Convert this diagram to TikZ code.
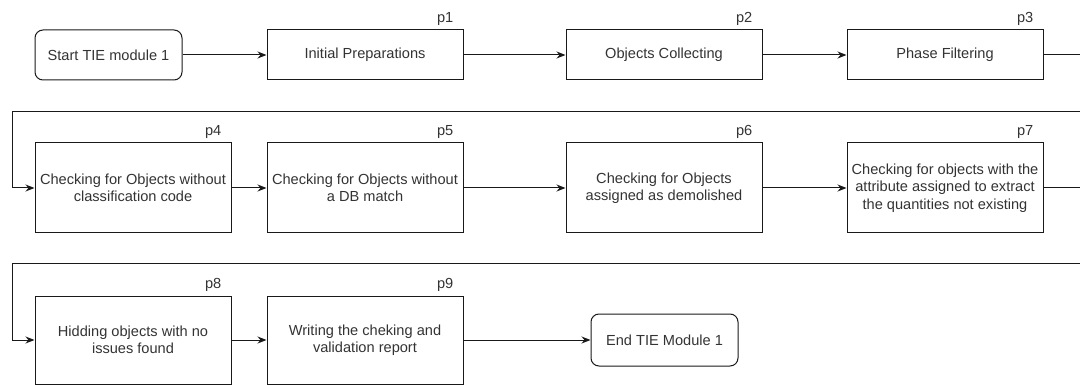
\documentclass[tikz,border=0pt]{standalone}
\usepackage{fontspec}
\setmainfont{Liberation Sans}
\usetikzlibrary{arrows.meta,calc}
\definecolor{txt}{HTML}{333333}
\tikzset{
  base/.style={draw=black!90, line width=1pt, text=txt, font=\fontsize{14.6}{17.5}\selectfont, align=center, inner sep=2pt},
  proc/.style={base, rectangle, minimum width=196pt},
  term/.style={base, rectangle, rounded corners=8pt, minimum width=147pt},
  lab/.style={text=txt, font=\fontsize{14.6}{17.5}\selectfont, anchor=base east, inner sep=0pt},
  arr/.style={draw=black!90, line width=1pt, -{Stealth[length=9pt,width=7pt]}}
}
\begin{document}
\begin{tikzpicture}[x=1pt,y=-1pt]
\useasboundingbox (0,0) rectangle (1080,385);
\clip (0,0) rectangle (1080,385);
% row 1
\node[term, minimum height=50pt] (start) at (108.5,55) {Start TIE module 1};
\node[proc, minimum height=50pt] (p1) at (365,55) {Initial Preparations};
\node[proc, minimum height=50pt] (p2) at (664,55) {Objects Collecting};
\node[proc, minimum height=50pt] (p3) at (945,55) {Phase Filtering};
% row 2
\node[proc, minimum height=90pt] (p4) at (133,188) {Checking for Objects without\\classification code};
\node[proc, minimum height=90pt] (p5) at (365,188) {Checking for Objects without\\a DB match};
\node[proc, minimum height=90pt] (p6) at (664,188) {Checking for Objects\\assigned as demolished};
\node[proc, minimum height=90pt] (p7) at (945,188) {Checking for objects with the\\attribute assigned to extract\\the quantities not existing};
% row 3
\node[proc, minimum height=88pt] (p8) at (133,340) {Hidding objects with no\\issues found};
\node[proc, minimum height=88pt] (p9) at (365,340) {Writing the cheking and\\validation report};
\node[term, minimum height=52pt] (end) at (664.5,340) {End TIE Module 1};
% labels
\foreach \n in {p1,p2,p3,p4,p5,p6,p7,p8,p9}{
  \node[lab] (l\n) at ($(\n.north east)+(-10,-7)$) {\n};
}
% connectors
\draw[arr] (start) -- (p1);
\draw[arr] (p1) -- (p2);
\draw[arr] (p2) -- (p3);
\coordinate (r1) at (1095,112);
\coordinate (q1) at (12,112);
\draw[arr] (p3.east) -| (r1) -- (q1) |- (p4.west);
\draw[arr] (p4) -- (p5);
\draw[arr] (p5) -- (p6);
\draw[arr] (p6) -- (p7);
\coordinate (r2) at (1095,263);
\coordinate (q2) at (12,263);
\draw[arr] (p7.east) -| (r2) -- (q2) |- (p8.west);
\draw[arr] (p8) -- (p9);
\draw[arr] (p9) -- (end);
\end{tikzpicture}
\end{document}
